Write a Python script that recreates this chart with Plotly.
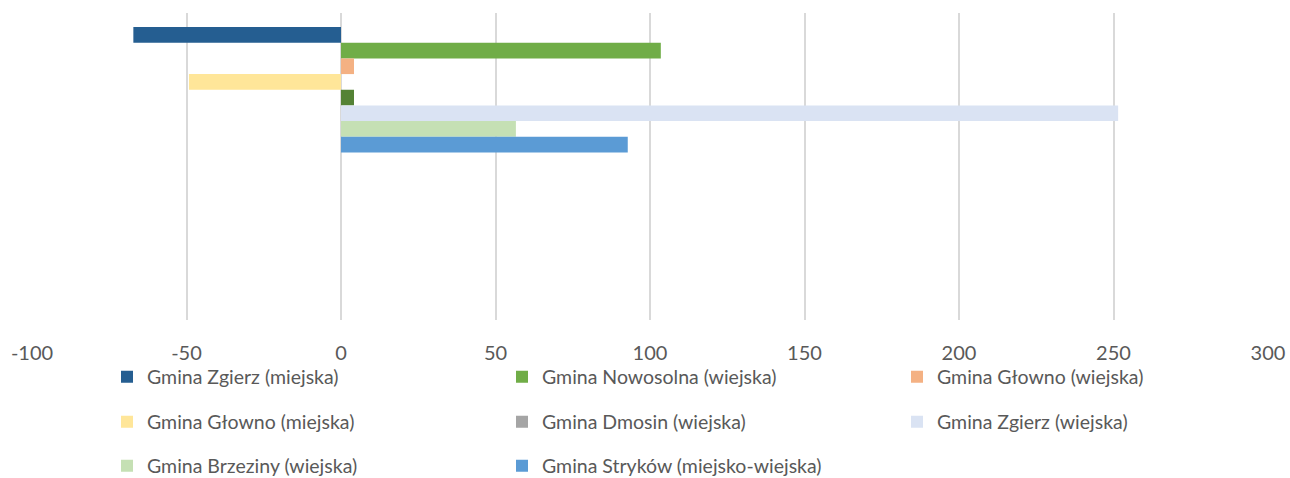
import plotly.graph_objects as go

categories = ["Kategoria 1", "Kategoria 2"]
series_names = [
    "Gmina Zgierz (miejska)",
    "Gmina Nowosolna (wiejska)",
    "Gmina Głowno (wiejska)",
    "Gmina Głowno (miejska)",
    "Gmina Dmosin (wiejska)",
    "Gmina Zgierz (wiejska)",
    "Gmina Brzeziny (wiejska)",
    "Gmina Stryków (miejsko-wiejska)",
]
series_values = [
    [-67.2, None],
    [103.5, None],
    [4.2, None],
    [-49.2, None],
    [4.2, None],
    [251.5, None],
    [56.6, None],
    [92.8, None],
]
bar_colors = ["#255E91", "#70AD47", "#F4B183", "#FFE699", "#548235", "#DAE3F3", "#C5E0B4", "#5B9BD5"]
legend_colors = ["#255E91", "#70AD47", "#F4B183", "#FFE699", "#A5A5A5", "#DAE3F3", "#C5E0B4", "#5B9BD5"]
legend_rows = ["legend", "legend", "legend", "legend2", "legend2", "legend2", "legend3", "legend3"]
x_ticks = [-100, -50, 0, 50, 100, 150, 200, 250, 300]

fig = go.Figure()
for i, (name, vals) in enumerate(zip(series_names, series_values)):
    same = bar_colors[i] == legend_colors[i]
    fig.add_trace(go.Bar(
        y=categories, x=vals, name=name, orientation="h",
        marker=dict(color=bar_colors[i], line=dict(width=0)),
        offsetgroup=f"g{i}", showlegend=same, legend=legend_rows[i],
        hoverinfo="x+name",
    ))
    if not same:
        fig.add_trace(go.Bar(
            y=categories, x=[None, None], name=name, orientation="h",
            marker=dict(color=legend_colors[i], line=dict(width=0)),
            offsetgroup=f"g{i}", showlegend=True, legend=legend_rows[i],
        ))

W, H = 1290, 478
font_family = "Lato, 'Open Sans', sans-serif"
text_color = "#595959"
leg_common = dict(
    orientation="h", xref="container", yref="container", x=107 / W,
    xanchor="left", yanchor="middle", entrywidth=350, entrywidthmode="pixels",
    font=dict(family=font_family, size=19.5, color=text_color),
    bgcolor="rgba(0,0,0,0)", traceorder="normal",
)
fig.update_layout(
    width=W, height=H,
    margin=dict(l=32, r=22, t=13, b=158, autoexpand=False),
    plot_bgcolor="white", paper_bgcolor="white",
    barmode="group", bargap=0.184, bargroupgap=0,
    font=dict(family=font_family, color=text_color),
    xaxis=dict(
        range=[-100, 300], tickvals=x_ticks, ticktext=[str(t) for t in x_ticks],
        showgrid=True, gridcolor="#D9D9D9", gridwidth=2,
        zeroline=True, zerolinecolor="#D9D9D9", zerolinewidth=2,
        showline=False, ticks="", ticklabelstandoff=19, automargin=False,
        tickfont=dict(family=font_family, size=20, color=text_color),
    ),
    yaxis=dict(
        type="category", categoryorder="array", categoryarray=categories,
        autorange="reversed", showticklabels=False, showgrid=False,
        zeroline=False, showline=False, ticks="", automargin=False,
    ),
    legend=dict(**leg_common, y=1 - 377 / H),
    legend2=dict(**leg_common, y=1 - 422 / H),
    legend3=dict(**leg_common, y=1 - 466 / H),
)

fig.write_html(
    "out.html",
    config={"displayModeBar": False},
    post_script="document.body.style.margin='0';document.body.style.overflow='hidden';",
)
